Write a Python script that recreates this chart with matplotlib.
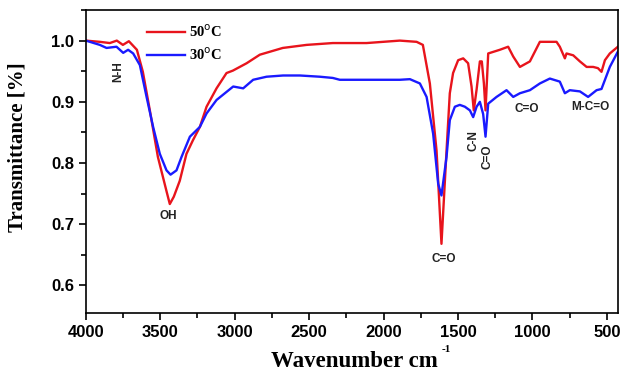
import matplotlib
matplotlib.use('Agg')
import matplotlib.pyplot as plt
from matplotlib.ticker import MultipleLocator
import numpy as np

# 50 C spectrum (wavenumber, transmittance)
wn_50 = [4000, 3906, 3839, 3792, 3751, 3711, 3657, 3617, 3570, 3516, 3456, 3436,
         3409, 3369, 3324, 3281, 3234, 3189, 3122, 3055, 3012, 2920, 2831, 2677,
         2517, 2341, 2114, 1891, 1778, 1736, 1689, 1644, 1611, 1577, 1555, 1533,
         1499, 1465, 1432, 1409, 1394, 1375, 1353, 1340, 1326, 1315, 1297, 1219,
         1163, 1129, 1084, 1017, 950, 838, 816, 782, 771, 726, 681, 636, 592, 560,
         536, 513, 480, 426]
tr_50 = [1.0, 0.998, 0.996, 1.0, 0.993, 0.999, 0.985, 0.949, 0.886, 0.81, 0.752, 0.733,
         0.745, 0.771, 0.815, 0.837, 0.859, 0.892, 0.922, 0.947, 0.951, 0.963, 0.977, 0.988,
         0.993, 0.996, 0.996, 1.0, 0.998, 0.993, 0.93, 0.82, 0.668, 0.82, 0.914, 0.947,
         0.968, 0.971, 0.963, 0.925, 0.886, 0.92, 0.966, 0.966, 0.93, 0.886, 0.979, 0.985,
         0.99, 0.974, 0.957, 0.966, 0.998, 0.998, 0.99, 0.971, 0.979, 0.976, 0.966, 0.957, 0.957, 0.955,
         0.949, 0.968, 0.979, 0.99]

# 30 C spectrum
wn_30 = [4000, 3906, 3861, 3794, 3749, 3716, 3682, 3637, 3592, 3548, 3503, 3458,
         3431, 3391, 3357, 3301, 3234, 3189, 3122, 3010, 2943, 2876, 2786, 2675,
         2562, 2428, 2341, 2294, 2114, 1891, 1823, 1756, 1711, 1667, 1633, 1611,
         1577, 1555, 1521, 1488, 1454, 1420, 1398, 1375, 1353, 1331, 1315, 1297,
         1241, 1174, 1129, 1084, 1017, 950, 883, 816, 782, 749, 681, 626, 569, 536,
         480, 426]
tr_30 = [1.0, 0.993, 0.988, 0.99, 0.980, 0.985, 0.979, 0.960, 0.908, 0.859, 0.815, 0.788,
         0.781, 0.788, 0.81, 0.843, 0.859, 0.881, 0.903, 0.925, 0.922, 0.936, 0.941, 0.943,
         0.943, 0.941, 0.939, 0.936, 0.936, 0.936, 0.937, 0.93, 0.908, 0.848, 0.766, 0.747,
         0.81, 0.87, 0.892, 0.895, 0.892, 0.886, 0.875, 0.892, 0.9, 0.88, 0.843, 0.897,
         0.908, 0.919, 0.908, 0.914, 0.919, 0.93, 0.938, 0.933, 0.914, 0.919, 0.917, 0.908, 0.919, 0.921,
         0.957, 0.982]

# band labels: text, x, y, rotation
band_text = ['N-H', 'OH', 'C=O', 'C-N', 'C=O', 'C=O', 'M-C=O']
band_x = [3785, 3447, 1596, 1398, 1305, 1040, 614]
band_y = [0.949, 0.713, 0.643, 0.836, 0.81, 0.888, 0.891]
band_rot = [90, 0, 0, 90, 90, 0, 0]

fig = plt.figure(figsize=(6.22, 3.76), dpi=100)
fig.set_facecolor('w')
ax = fig.add_axes([0.138, 0.1676, 0.8556, 0.8058])

ax.plot(wn_50, tr_50, color='#e8141c', lw=1.7, label=r'50$^{\rm o}$C')
ax.plot(wn_30, tr_30, color='#1a1aff', lw=1.7, label=r'30$^{\rm o}$C')

for t, x, y, r in zip(band_text, band_x, band_y, band_rot):
    ax.text(x, y, t, rotation=r, ha='center', va='center', fontsize=8.5,
            fontweight='bold', family='Liberation Sans', color='#222222')

ax.set_xlim(4000, 425)
ax.set_ylim(0.555, 1.05)
ax.xaxis.set_major_locator(MultipleLocator(500))
ax.xaxis.set_minor_locator(MultipleLocator(250))
ax.yaxis.set_major_locator(MultipleLocator(0.1))
ax.yaxis.set_minor_locator(MultipleLocator(0.05))
ax.set_yticks([0.6, 0.7, 0.8, 0.9, 1.0])
ax.tick_params(which='major', direction='out', length=5, width=1.2, labelsize=12)
ax.tick_params(which='minor', direction='out', length=3.5, width=1.2)
for lab in ax.get_xticklabels() + ax.get_yticklabels():
    lab.set_fontweight('bold')
    lab.set_family('Liberation Sans')
for sp in ax.spines.values():
    sp.set_linewidth(1.2)

ax.set_xlabel('Wavenumber cm', fontsize=16.5, fontweight='bold',
              family='Liberation Serif', va='center')
ax.xaxis.set_label_coords((354 - 86) / 532, (313 - 362) / 303)
fig.text(442 / 622, 1 - 349 / 376, '-1', fontsize=8, fontweight='bold',
         family='Liberation Serif', ha='left', va='center')
ax.set_ylabel('Transmittance [%]', fontsize=15, fontweight='bold',
              family='Liberation Serif', va='center')
ax.yaxis.set_label_coords((18 - 86) / 532, (313 - 147) / 303)

leg = ax.legend(loc='upper left', bbox_to_anchor=(0.09, 1.0), frameon=False,
                prop={'family': 'Liberation Serif', 'weight': 'bold', 'size': 10.5},
                handlelength=2.6, handletextpad=0.3, labelspacing=0.45)

fig.savefig('out.png', dpi=100)
